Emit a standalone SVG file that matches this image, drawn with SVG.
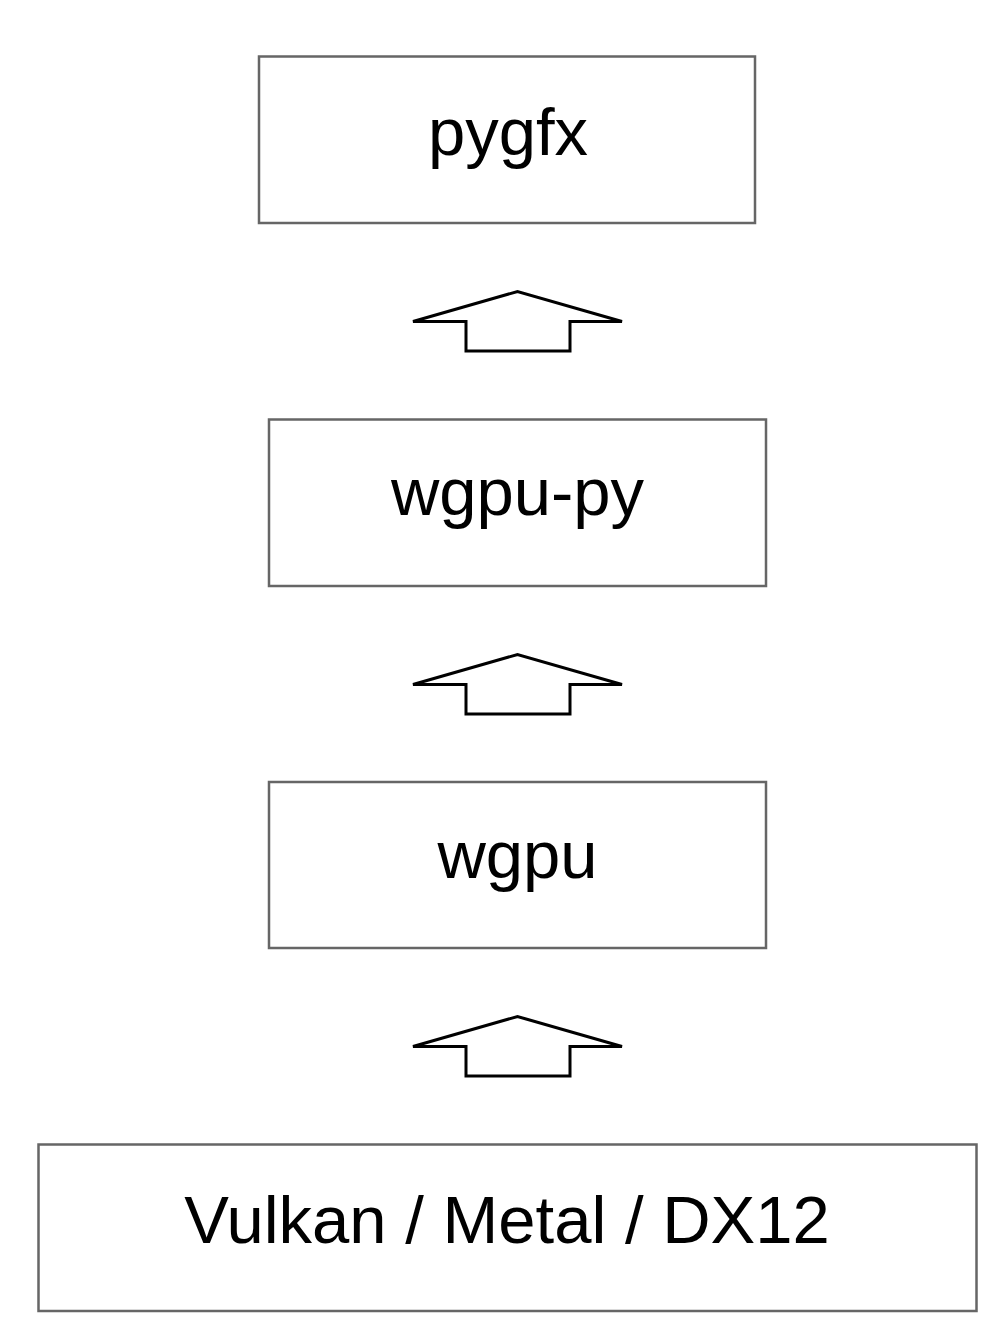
<svg xmlns="http://www.w3.org/2000/svg" width="1004" height="1336" viewBox="0 0 1004 1336">
<style>
.box{fill:#ffffff;stroke:#666666;stroke-width:2.5}
.lbl{font-family:"Liberation Sans",Arial,sans-serif;font-size:67px;fill:#000000;text-anchor:middle}
.arrow{fill:#ffffff;stroke:#000000;stroke-width:3;stroke-linejoin:miter}
</style>
<rect width="1004" height="1336" fill="#ffffff"/>
<g id="connectors">
<path class="arrow" d="M413,321.5 L517.5,291.5 L622,321.5 L570,321.5 L570,351 L466,351 L466,321.5 Z"/>
<path class="arrow" d="M413,684.5 L517.5,654.5 L622,684.5 L570,684.5 L570,714 L466,714 L466,684.5 Z"/>
<path class="arrow" d="M413,1046.5 L517.5,1016.5 L622,1046.5 L570,1046.5 L570,1076 L466,1076 L466,1046.5 Z"/>
</g>
<g id="pygfx">
<rect class="box" x="259" y="56.5" width="496" height="166.5"/>
<text class="lbl" x="508" y="155">pygfx</text>
</g>
<g id="wgpu-py">
<rect class="box" x="269" y="419.5" width="497" height="166.5"/>
<text class="lbl" x="517.5" y="515">wgpu-py</text>
</g>
<g id="wgpu">
<rect class="box" x="269" y="782" width="497" height="166"/>
<text class="lbl" x="517.5" y="878">wgpu</text>
</g>
<g id="backends">
<rect class="box" x="38.5" y="1144.5" width="938" height="166.5"/>
<text class="lbl" x="507" y="1243">Vulkan / Metal / DX12</text>
</g>
</svg>
